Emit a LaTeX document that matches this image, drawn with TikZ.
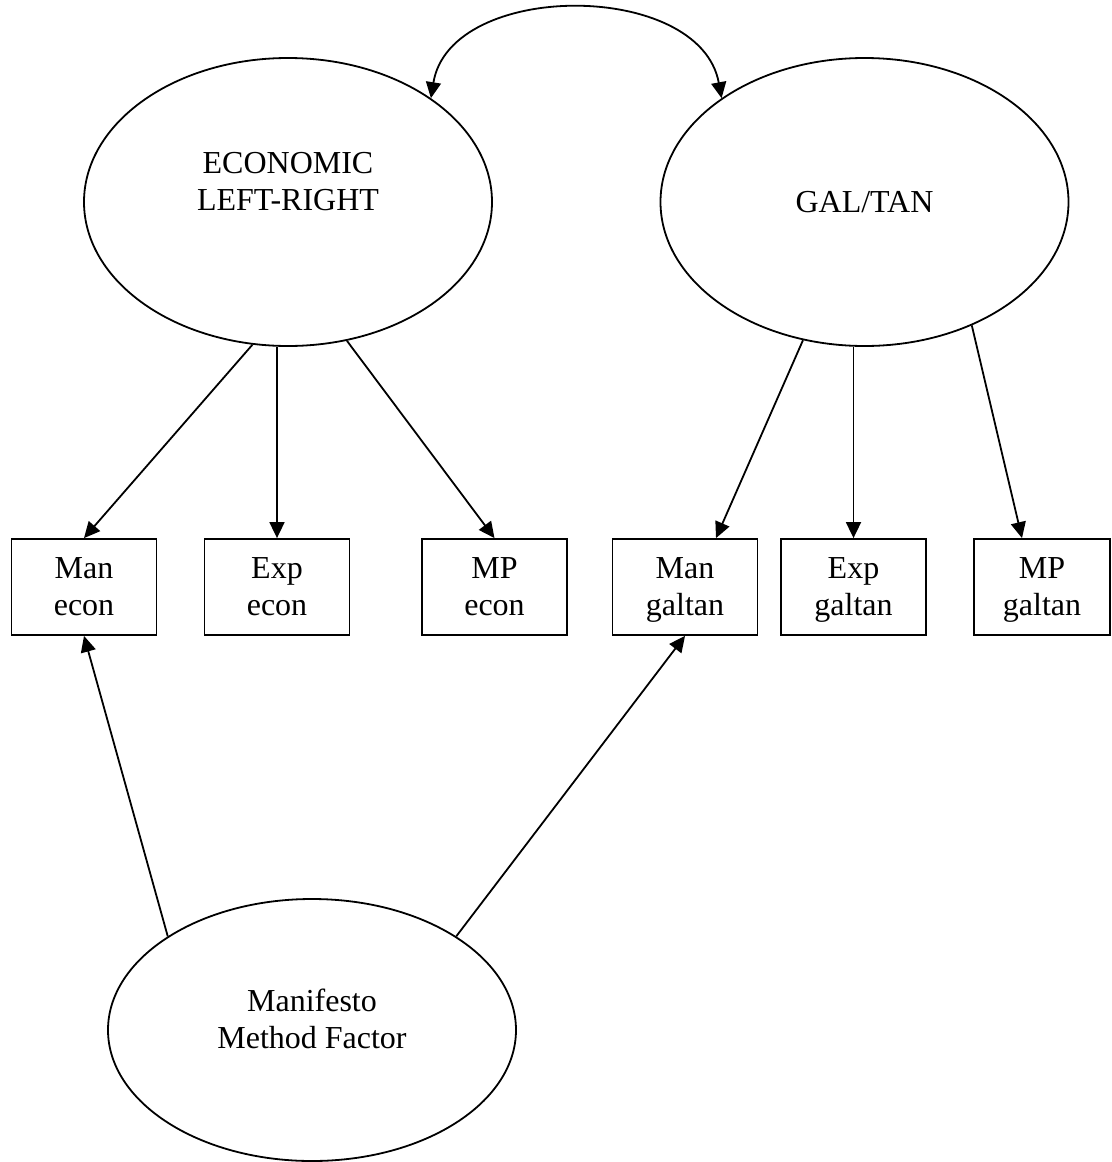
\documentclass[tikz,border=0pt]{standalone}
\usepackage{fontspec}
\setmainfont{Liberation Serif}
\usetikzlibrary{shapes.geometric,arrows.meta}

\begin{document}
\begin{tikzpicture}[x=0.5pt,y=-0.5pt,
        line width=0.9pt,
        >={Triangle[length=8pt,width=7.5pt]},
        every node/.append style={font=\fontsize{16}{18.5}\selectfont},
        latent/.style={draw, ellipse, inner sep=0pt, minimum width=204pt, minimum height=144pt},
        manifest/.style={draw, rectangle, align=center, inner sep=0pt, text depth=0pt,
            minimum width=72.5pt, minimum height=48pt}]

        \useasboundingbox (0,0) rectangle (1112,1162);

        % factors

        \node[latent] (econ) at (288,202) {};
        \node[align=center] (econtext) at (288,182) {ECONOMIC\\LEFT-RIGHT};
        \node[latent] (galtan) at (864.5,202) {GAL/TAN};
        \node[latent, minimum height=131pt] (method) at (312,1030) {};
        \node[align=center] (methodtext) at (312,1019) {Manifesto\\Method Factor};

        % indicators

        \node[manifest] (manecon) at (84,587) {Man\\econ};
        \node[manifest] (expecon) at (277,587) {Exp\\econ};
        \node[manifest] (mpecon) at (494.5,587) {MP\\econ};
        \node[manifest] (mangal) at (685,587) {Man\\galtan};
        \node[manifest] (expgal) at (853.5,587) {Exp\\galtan};
        \node[manifest, minimum width=68pt] (mpgal) at (1042,587) {MP\\galtan};

        % loadings

        \draw[->] (econ.256) -- (manecon.north);
        \draw[->] (expecon.north |- econ.south) -- (expecon.north);
        \draw[->] (econ.293) -- (mpecon.north);

        \draw[->] (galtan.246) -- ([xshift=15.5pt]mangal.north);
        \draw[->] (expgal.north |- galtan.south) -- (expgal.north);
        \draw[->] (galtan.311) -- ([xshift=-10pt]mpgal.north);

        % method factor

        \draw[->] (method.147) -- (manecon.south);
        \draw[->] (method.33) -- (mangal.south);

        % covariance

        \draw[<->] (econ.36) .. controls (450,-20) and (700,-20) .. (galtan.144);

    \end{tikzpicture}
\end{document}
